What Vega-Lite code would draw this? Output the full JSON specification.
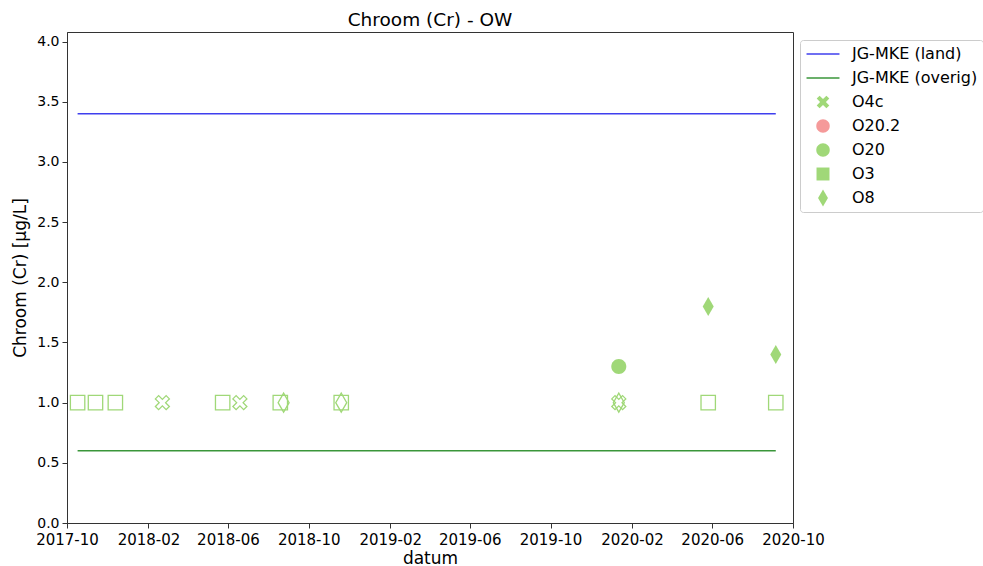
{
  "$schema": "https://vega.github.io/schema/vega-lite/v6.json",
  "width": 726,
  "height": 491,
  "autosize": {"type": "none"},
  "padding": {"left": 67, "top": 32, "right": 190, "bottom": 43},
  "background": "white",
  "title": {"text": "Chroom (Cr) - OW", "font": "DejaVu Sans", "fontSize": 18.5, "fontWeight": "normal", "color": "black", "offset": 3},
  "config": {
    "view": {"stroke": "#333", "strokeWidth": 1},
    "axis": {"grid": false, "labelFont": "DejaVu Sans", "labelFontSize": 15, "labelColor": "black", "titleFont": "DejaVu Sans", "titleFontSize": 17, "titleFontWeight": "normal", "titleColor": "black", "domainColor": "#333", "tickColor": "#333", "tickSize": 5, "labelPadding": 3, "labelOverlap": false, "labelFlush": false},
    "legend": {"labelFont": "DejaVu Sans", "labelFontSize": 16, "labelColor": "black"}
  },
  "data": {"values": [
    {"series": "JG-MKE (land)", "datum": "2017-10-17", "value": 3.4, "kind": "norm", "detected": true},
    {"series": "JG-MKE (land)", "datum": "2020-09-05", "value": 3.4, "kind": "norm", "detected": true},
    {"series": "JG-MKE (overig)", "datum": "2017-10-17", "value": 0.6, "kind": "norm", "detected": true},
    {"series": "JG-MKE (overig)", "datum": "2020-09-05", "value": 0.6, "kind": "norm", "detected": true},
    {"series": "O4c", "datum": "2018-02-22", "value": 1.0, "kind": "meting", "detected": false},
    {"series": "O4c", "datum": "2018-06-19", "value": 1.0, "kind": "meting", "detected": false},
    {"series": "O4c", "datum": "2020-01-12", "value": 1.0, "kind": "meting", "detected": false},
    {"series": "O20", "datum": "2020-01-12", "value": 1.3, "kind": "meting", "detected": true},
    {"series": "O3", "datum": "2017-10-17", "value": 1.0, "kind": "meting", "detected": false},
    {"series": "O3", "datum": "2017-11-13", "value": 1.0, "kind": "meting", "detected": false},
    {"series": "O3", "datum": "2017-12-13", "value": 1.0, "kind": "meting", "detected": false},
    {"series": "O3", "datum": "2018-05-24", "value": 1.0, "kind": "meting", "detected": false},
    {"series": "O3", "datum": "2018-08-19", "value": 1.0, "kind": "meting", "detected": false},
    {"series": "O3", "datum": "2018-11-19", "value": 1.0, "kind": "meting", "detected": false},
    {"series": "O3", "datum": "2020-05-26", "value": 1.0, "kind": "meting", "detected": false},
    {"series": "O3", "datum": "2020-09-05", "value": 1.0, "kind": "meting", "detected": false},
    {"series": "O8", "datum": "2018-08-24", "value": 1.0, "kind": "meting", "detected": false},
    {"series": "O8", "datum": "2018-11-19", "value": 1.0, "kind": "meting", "detected": false},
    {"series": "O8", "datum": "2020-01-12", "value": 1.0, "kind": "meting", "detected": false},
    {"series": "O8", "datum": "2020-05-26", "value": 1.8, "kind": "meting", "detected": true},
    {"series": "O8", "datum": "2020-09-05", "value": 1.4, "kind": "meting", "detected": true}
  ]},
  "encoding": {
    "x": {
      "field": "datum", "type": "temporal", "title": "datum",
      "scale": {"type": "utc", "domain": [{"year": 2017, "month": 10, "date": 1, "utc": true}, {"year": 2020, "month": 10, "date": 1, "utc": true}]},
      "axis": {
        "format": "%Y-%m", "labelAngle": 0, "titlePadding": 3, "labelPadding": 4,
        "values": [
          {"year": 2017, "month": 10, "date": 1, "utc": true},
          {"year": 2018, "month": 2, "date": 1, "utc": true},
          {"year": 2018, "month": 6, "date": 1, "utc": true},
          {"year": 2018, "month": 10, "date": 1, "utc": true},
          {"year": 2019, "month": 2, "date": 1, "utc": true},
          {"year": 2019, "month": 6, "date": 1, "utc": true},
          {"year": 2019, "month": 10, "date": 1, "utc": true},
          {"year": 2020, "month": 2, "date": 1, "utc": true},
          {"year": 2020, "month": 6, "date": 1, "utc": true},
          {"year": 2020, "month": 10, "date": 1, "utc": true}
        ]
      }
    },
    "y": {
      "field": "value", "type": "quantitative", "title": "Chroom (Cr) [µg/L]",
      "scale": {"domain": [0, 4.08], "nice": false, "zero": false},
      "axis": {"values": [0, 0.5, 1, 1.5, 2, 2.5, 3, 3.5, 4], "format": ".1f", "titlePadding": 7, "labelFontSize": 14}
    }
  },
  "layer": [
    {
      "transform": [{"filter": "datum.kind === 'norm'"}],
      "mark": {"type": "line", "strokeWidth": 1.5},
      "encoding": {
        "detail": {"field": "series"},
        "stroke": {
          "field": "series", "type": "nominal", "legend": null,
          "scale": {"domain": ["JG-MKE (land)", "JG-MKE (overig)"], "range": ["#3f3fee", "#3a963a"]}
        }
      }
    },
    {
      "transform": [{"filter": "datum.kind === 'meting' && datum.detected"}],
      "mark": {"type": "point", "filled": true, "opacity": 1, "size": 400},
      "encoding": {
        "color": {
          "field": "series", "type": "nominal",
          "scale": {
            "domain": ["JG-MKE (land)", "JG-MKE (overig)", "O4c", "O20.2", "O20", "O3", "O8"],
            "range": ["#3f3fee", "#3a963a", "#a0d878", "#f59a9a", "#a0d878", "#a0d878", "#a0d878"]
          },
          "legend": {
            "title": null, "orient": "none", "legendX": 733, "legendY": 8,
            "padding": 5, "strokeColor": "#cccccc", "fillColor": "white", "cornerRadius": 3,
            "symbolSize": 324, "symbolOffset": 9, "labelOffset": 20, "rowPadding": 7, "symbolStrokeWidth": 0
          }
        },
        "shape": {
          "field": "series", "type": "nominal",
          "scale": {
            "domain": ["JG-MKE (land)", "JG-MKE (overig)", "O4c", "O20.2", "O20", "O3", "O8"],
            "range": [
              "M-1.83,-0.08H1.83V0.08H-1.83Z",
              "M-1.83,-0.08H1.83V0.08H-1.83Z",
              "M0.377,-0.7L0.7,-0.377L0.323,0L0.7,0.377L0.377,0.7L0,0.323L-0.377,0.7L-0.7,0.377L-0.323,0L-0.7,-0.377L-0.377,-0.7L0,-0.323Z",
              "M0.75,0A0.75,0.75,0,1,1,-0.75,0A0.75,0.75,0,1,1,0.75,0Z",
              "M0.75,0A0.75,0.75,0,1,1,-0.75,0A0.75,0.75,0,1,1,0.75,0Z",
              "M-0.72,-0.72H0.72V0.72H-0.72Z",
              "M0,-0.95L0.55,0L0,0.95L-0.55,0Z"
            ]
          },
          "legend": {
            "title": null, "orient": "none", "legendX": 733, "legendY": 8,
            "padding": 5, "strokeColor": "#cccccc", "fillColor": "white", "cornerRadius": 3,
            "symbolSize": 324, "symbolOffset": 9, "labelOffset": 20, "rowPadding": 7, "symbolStrokeWidth": 0
          }
        }
      }
    },
    {
      "transform": [{"filter": "datum.kind === 'meting' && !datum.detected"}],
      "mark": {"type": "point", "filled": false, "opacity": 1, "size": 400, "strokeWidth": 1.3},
      "encoding": {
        "color": {"field": "series", "type": "nominal"},
        "shape": {"field": "series", "type": "nominal"}
      }
    }
  ]
}
